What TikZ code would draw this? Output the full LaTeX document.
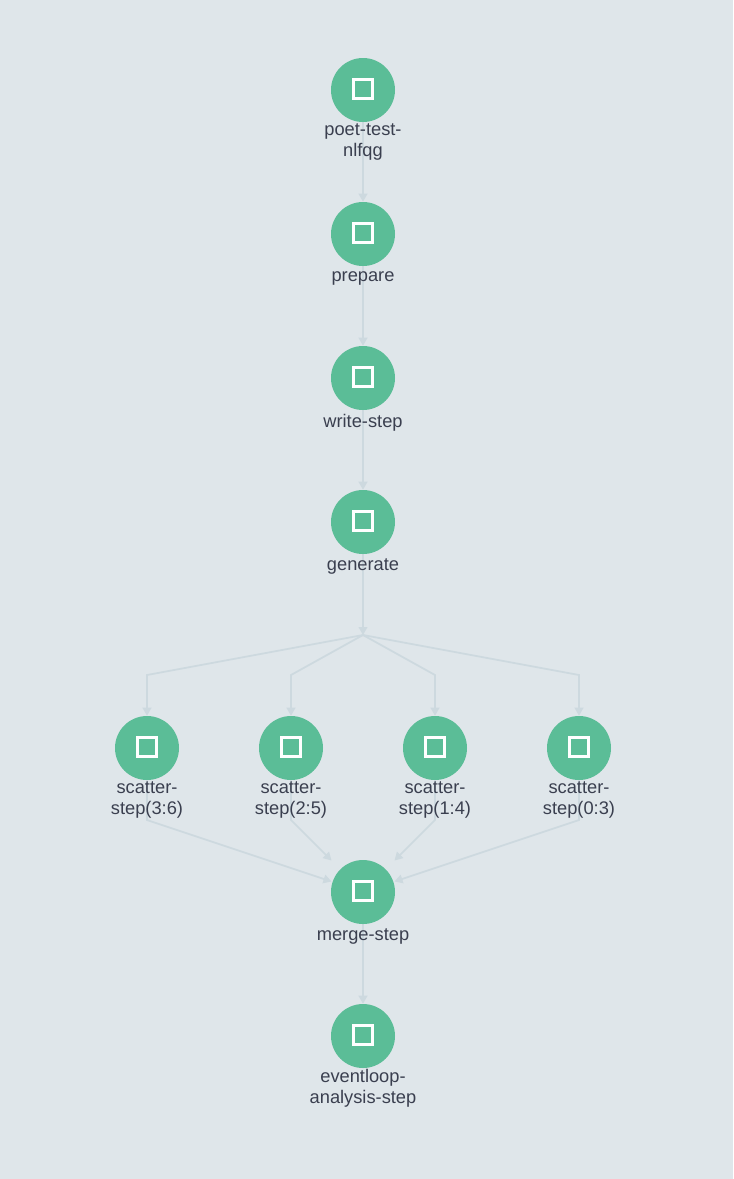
\documentclass[tikz,border=0pt]{standalone}
\usepackage{fontspec}
\setmainfont{Liberation Sans}
\usetikzlibrary{positioning,arrows.meta,backgrounds}
\definecolor{pagebg}{HTML}{DFE6EA}
\definecolor{stepgreen}{HTML}{5BBD97}
\definecolor{edgegray}{HTML}{CDD9DF}
\definecolor{labelink}{HTML}{3A3F4F}
\tikzset{
  stepcircle/.style={circle,fill=stepgreen,minimum size=48pt,inner sep=0pt},
  stepsquare/.style={draw=white,line width=2.2pt,minimum size=14.2pt,inner sep=0pt,xshift=-0.3pt,yshift=0.5pt},
  steplabel/.style={text=labelink,font=\fontsize{13.7pt}{15.75pt}\selectfont,align=center,inner sep=0pt},
  stepedge/.style={draw=edgegray,line width=1.3pt,-{Triangle[length=6pt,width=6.5pt]}}
}
\begin{document}
\begin{tikzpicture}[x=0.75pt,y=-0.75pt]
\useasboundingbox(0,0)rectangle(733,1179);
\foreach \stepname/\px/\py/\ly/\txt in {
  poet/363/90/52/{poet-test-\\nlfqg},
  prepare/363/234/44.5/prepare,
  write/363/378/44.5/write-step,
  generate/363/522/44.5/generate,
  scatterA/147/748/52/{scatter-\\step(3:6)},
  scatterB/291/748/52/{scatter-\\step(2:5)},
  scatterC/435/748/52/{scatter-\\step(1:4)},
  scatterD/579/748/52/{scatter-\\step(0:3)},
  merge/363/892/44.5/merge-step,
  eventloop/363/1036/52/{eventloop-\\analysis-step}}{
  \node[stepcircle](\stepname)at(\px,\py){};
  \node[stepsquare](\stepname-box)at(\stepname){};
  \node[steplabel](\stepname-label)at(\px,\py+\ly){\txt};
}
\coordinate(fork)at(363,635);
\coordinate(bendA)at(147,675);
\coordinate(bendB)at(291,675);
\coordinate(bendC)at(435,675);
\coordinate(bendD)at(579,675);
\coordinate(lowA)at(147,820);
\coordinate(lowB)at(291,820);
\coordinate(lowC)at(435,820);
\coordinate(lowD)at(579,820);
\coordinate(inA)at(331.5,881.5);
\coordinate(inB)at(331.5,860.5);
\coordinate(inC)at(394.5,860.5);
\coordinate(inD)at(394.5,881.5);
\begin{pgfonlayer}{background}
\fill[pagebg](0,0)rectangle(733,1179);
\draw[stepedge](poet)--(prepare.north);
\draw[stepedge](prepare)--(write.north);
\draw[stepedge](write)--(generate.north);
\draw[stepedge](generate)--(fork);
\draw[stepedge](merge)--(eventloop.north);
\foreach \col in {A,B,C,D}{
  \draw[stepedge](fork)--(bend\col)--(scatter\col.north);
  \draw[stepedge](scatter\col)--(low\col)--(in\col);
}
\end{pgfonlayer}
\end{tikzpicture}
\end{document}
